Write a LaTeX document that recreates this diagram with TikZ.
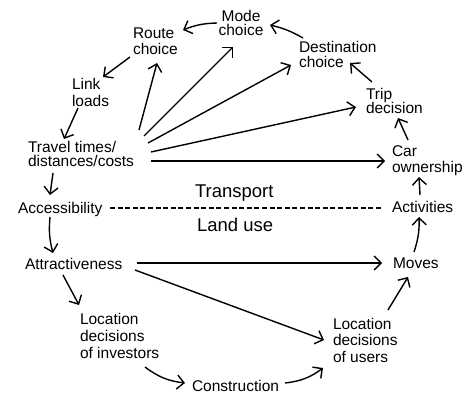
\documentclass[tikz,border=0pt]{standalone}
\usepackage{fontspec}
\setmainfont{Liberation Sans}
\usetikzlibrary{arrows.meta,calc}
\begin{document}
\begin{tikzpicture}[x=1pt,y=1pt,
  lbl/.style={inner sep=0pt,outer sep=0pt,align=left,anchor=north west,
    font=\fontsize{15.5}{15.5}\selectfont},
  big/.style={inner sep=0pt,outer sep=0pt,anchor=north west,
    font=\fontsize{18.5}{20}\selectfont},
  arr/.style={line width=1.4pt,-{Straight Barb[length=7pt,width=14pt]}},
  sep/.style={line width=1.1pt,dash pattern=on 5pt off 2.6pt}]
\fill[white] (0,0) rectangle (473,-412);
\useasboundingbox (0,0) rectangle (473,-412);

\node[lbl,align=center,anchor=north,font=\fontsize{15.5}{14.5}\selectfont] (mode) at (241,-10) {Mode\\choice};
\node[lbl] (route) at (133,-28) {Route\\choice};
\node[lbl] (dest) at (299,-41) {Destination\\choice};
\node[lbl,font=\fontsize{15.5}{14.5}\selectfont] (trip) at (366,-88) {Trip\\decision};
\node[lbl,font=\fontsize{15.5}{16}\selectfont] (car) at (392,-146) {Car\\ownership};
\node[lbl] (act) at (392,-201) {Activities};
\node[lbl] (moves) at (393,-258) {Moves};
\node[lbl,font=\fontsize{15.5}{16.5}\selectfont] (users) at (333,-318) {Location\\decisions\\of users};
\node[lbl] (cons) at (192,-380) {Construction};
\node[lbl,font=\fontsize{15.5}{17}\selectfont] (inv) at (80,-313) {Location\\decisions\\of investors};
\node[lbl] (attr) at (25,-258) {Attractiveness};
\node[lbl] (acc) at (18,-202) {Accessibility};
\node[lbl,font=\fontsize{15.5}{14.5}\selectfont] (tt) at (28,-141) {Travel times/\\distances/costs};
\node[lbl,font=\fontsize{15.5}{17}\selectfont] (link) at (72,-78) {Link\\loads};
\node[big] (transport) at (195,-185) {Transport};
\node[big] (landuse) at (197,-218) {Land use};

% cycle
\draw[arr] ($(mode.north)+(-24,-13)$) to[bend right=10] ($(route.north west)+(50,-2)$);
\draw[arr] ($(dest.north west)+(4,3)$) to[bend right=8] ($(mode.north)+(29,-15)$);
\draw[arr] ($(trip.north west)+(6,6)$) -- ($(dest.north west)+(51,-22)$);
\draw[arr] ($(car.north west)+(16,6)$) -- ($(trip.north west)+(32,-30)$);
\draw[arr] ($(act.north west)+(28,6)$) -- ($(car.north west)+(27,-31)$);
\draw[arr] ($(moves.north west)+(21,6)$) to[bend right=10] ($(act.north west)+(27,-16)$);
\draw[arr] ($(users.north west)+(55,8)$) -- ($(moves.north west)+(15,-19)$);
\draw[arr] ($(cons.north west)+(93,-3)$) to[bend right=15] ($(users.north west)+(-10,-50)$);
\draw[arr] ($(inv.north west)+(65,-54)$) to[bend right=15] ($(cons.north west)+(-7,-3)$);
\draw[arr] ($(attr.north west)+(38,-17)$) -- ($(inv.north west)+(-1,8)$);
\draw[arr] ($(acc.north west)+(32,-15)$) to[bend right=10] ($(attr.north west)+(28,5)$);
\draw[arr] ($(tt.north west)+(25,-32)$) -- ($(acc.north west)+(32,7)$);
\draw[arr] ($(link.north west)+(6,-30)$) -- ($(tt.north west)+(36,2)$);
\draw[arr] ($(route.north west)+(-3,-29)$) -- ($(link.north west)+(31,1)$);

% fan from travel times
\draw[arr] ($(tt.north west)+(111,11)$) -- ($(route.north west)+(24,-35)$);
\draw[arr] ($(tt.north west)+(116,5)$) -- ($(mode.north)+(-8,-37)$);
\draw[arr] ($(tt.north west)+(120,-2)$) -- ($(dest.north west)+(-8,-24)$);
\draw[arr] ($(tt.north west)+(123,-11)$) -- ($(trip.north west)+(-10,-19)$);
\draw[arr] ($(tt.north west)+(123,-20)$) -- ($(car.north west)+(-7,-15)$);

% from attractiveness
\draw[arr] ($(attr.north west)+(112,-5)$) -- ($(moves.north west)+(-11,-5)$);
\draw[arr] ($(attr.north west)+(110,-12)$) -- ($(users.north west)+(-9,-22)$);

% separator
\draw[sep] ($(acc.north west)+(92,-6)$) -- ($(act.north west)+(-9,-7)$);
\end{tikzpicture}
\end{document}
